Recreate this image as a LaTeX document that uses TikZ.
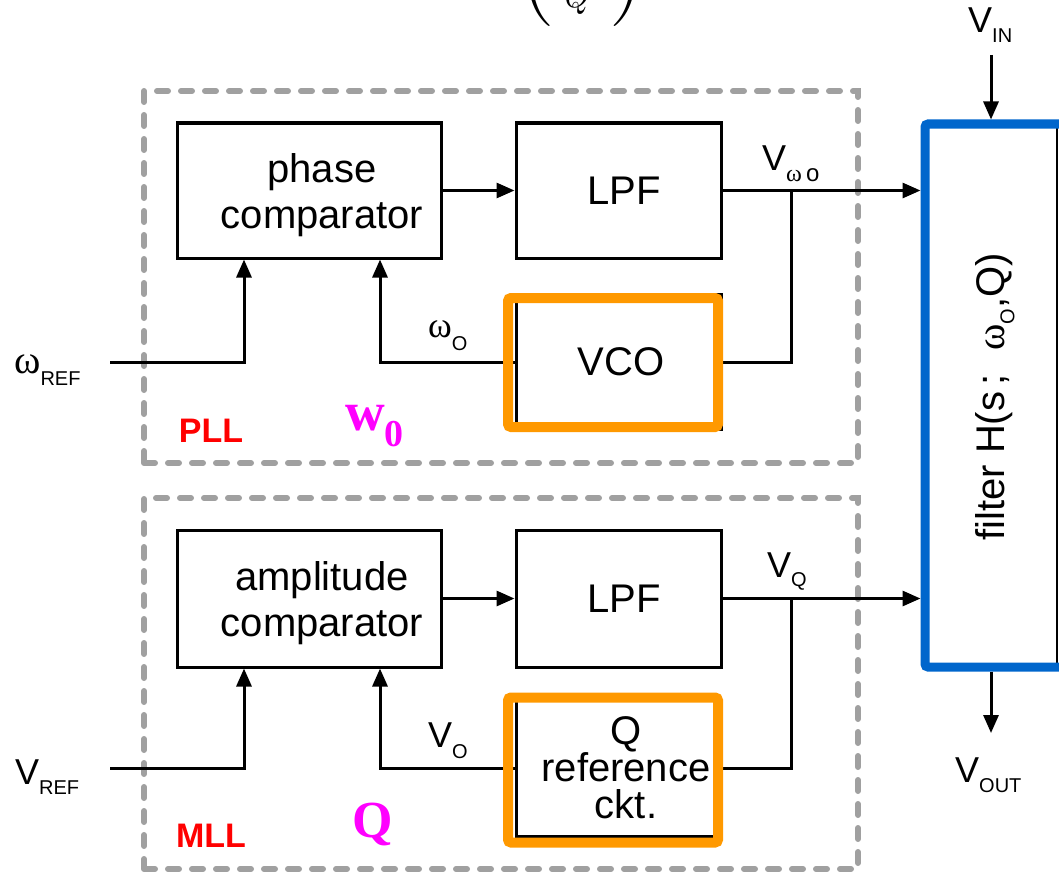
\documentclass[tikz,border=0pt]{standalone}
\usepackage{fontspec}
\setmainfont{Liberation Sans}
\newfontfamily\serifA{Liberation Serif}
\newfontfamily\lmr{Latin Modern Roman}
\usetikzlibrary{arrows.meta}
\definecolor{orng}{HTML}{FF9900}
\definecolor{fblue}{HTML}{0066CC}
\definecolor{dgray}{HTML}{A0A0A0}
\definecolor{magn}{HTML}{FF00FF}
\definecolor{redt}{HTML}{FF0000}
\newcommand{\blkfont}{\fontsize{40}{46}\selectfont}
\newcommand{\lblfont}{\fontsize{36}{36}\selectfont}
\newcommand{\sbs}[1]{{\fontsize{20}{20}\selectfont #1}}
\newcommand{\om}{{\serifA ω}}
\begin{document}
\begin{tikzpicture}[x=1pt,y=-1pt,
  box/.style={draw, line width=3pt, inner sep=0pt, minimum width=205pt, minimum height=135pt},
  wire/.style={line width=3pt},
  arr/.style={wire, -{Triangle[length=18pt,width=15pt]}},
  grp/.style={draw=dgray, line width=6pt, dash pattern=on 11pt off 13pt, line cap=round, inner sep=0pt},
  hl/.style={draw=orng, line width=10pt, rounded corners=3pt, inner sep=0pt},
  lbl/.style={font=\lblfont, inner sep=0pt, anchor=base west},
  blktxt/.style={font=\blkfont, align=center, inner sep=0pt}
]
\useasboundingbox (0,0) rectangle (1059,872);
\clip (0,0) rectangle (1059,872);

% partial formula cut off at the top
\node[font=\lmr\itshape\fontsize{36}{36}\selectfont, anchor=base west, inner sep=0pt] (qtop) at (561,8) {Q};
\node[font=\lmr\fontsize{100}{100}\selectfont, anchor=base, inner sep=0pt] (lp) at (537,2) {(};
\node[font=\lmr\fontsize{100}{100}\selectfont, anchor=base, inner sep=0pt] (rp) at (627,2) {)};

% group frames
\node[grp, minimum width=714pt, minimum height=372pt] (pllbox) at (501,277) {};
\node[grp, minimum width=714pt, minimum height=371pt] (mllbox) at (501,683.5) {};

% filter
\draw[line width=1.5pt] (925,124) rectangle (1057,667);
\node[draw=fblue, line width=9pt, inner sep=0pt, minimum width=150pt, minimum height=543pt, rounded corners=3pt] (filter) at (1000,395.5) {};
\node[font=\blkfont, rotate=90, inner sep=0pt] (ftxt) at (995,397) {filter H(s\,;\hspace{12pt} \om\raisebox{-10pt}{\sbs{O}},Q)};

% PLL blocks
\node[box, minimum width=264pt] (pc) at (309,190.5) {};
\node[box] (lpf1) at (618.5,190.5) {};
\node[box] (vco) at (618.5,362) {};

% MLL blocks
\node[box, minimum width=264pt, minimum height=137pt] (ac) at (309,598.5) {};
\node[box, minimum height=137pt] (lpf2) at (618.5,598.5) {};
\node[box, minimum width=200pt, minimum height=137pt] (qref) at (616,768) {};

% PLL wiring
\draw[arr] (pc.east) -- (lpf1.west);
\draw[arr] (lpf1.east) -- (lpf1.east -| filter.west);
\coordinate (j1) at (791,190.5);
\draw[wire] (j1) |- (vco.east);
\coordinate (fb1) at (380,362);
\draw[arr] (vco.west) -- (fb1) -- (fb1 |- pc.south);
\coordinate (wr) at (110,362);
\coordinate (wrc) at (244,362);
\draw[arr] (wr) -- (wrc) -- (wrc |- pc.south);

% MLL wiring
\draw[arr] (ac.east) -- (lpf2.west);
\draw[arr] (lpf2.east) -- (lpf2.east -| filter.west);
\coordinate (j2) at (791,598.5);
\draw[wire] (j2) |- (qref.east);
\coordinate (fb2) at (380,768);
\draw[arr] (qref.west) -- (fb2) -- (fb2 |- ac.south);
\coordinate (vr) at (110,768);
\coordinate (vrc) at (244,768);
\draw[arr] (vr) -- (vrc) -- (vrc |- ac.south);

% filter in / out
\coordinate (vinc) at (991,55);
\draw[arr] (vinc) -- (vinc |- filter.north);
\coordinate (voutc) at (991,733);
\draw[arr] (voutc |- filter.south) -- (voutc);

% orange highlights
\node[hl, minimum width=210pt, minimum height=129pt] (vcoh) at (613,362.5) {};
\node[hl, minimum width=210pt, minimum height=145pt] (qrefh) at (613,770) {};

% block texts
\node[blktxt] (pctxt) at (322,195) {phase\\comparator};
\node[blktxt] (lpf1txt) at (624,190.5) {LPF};
\node[blktxt] (vcotxt) at (621,362) {VCO};
\node[blktxt] (actxt) at (322,603) {amplitude\\comparator};
\node[blktxt] (lpf2txt) at (624,598.5) {LPF};
\node[font=\fontsize{40}{37}\selectfont, align=center, inner sep=0pt] (qreftxt) at (626,768) {Q\\reference\\ckt.};

% labels
\node[lbl] (vin) at (968,33) {V\raisebox{-10pt}{\sbs{IN}}};
\node[lbl] (vout) at (955,782) {V\raisebox{-10pt}{\sbs{OUT}}};
\node[lbl, font=\fontsize{40}{40}\selectfont] (wref) at (14,373) {\om\raisebox{-12pt}{\sbs{REF}}};
\node[lbl] (vref) at (15,784) {V\raisebox{-10pt}{\sbs{REF}}};
\node[lbl] (vwo) at (762,170) {V\raisebox{-11pt}{\sbs{\fontsize{24}{24}\selectfont\om\,o}}};
\node[lbl] (vq) at (767,577) {V\raisebox{-9pt}{\sbs{Q}}};
\node[lbl] (wo) at (428,337) {\om\raisebox{-13pt}{\sbs{O}}};
\node[lbl] (vo) at (428,747) {V\raisebox{-11pt}{\sbs{O}}};

\node[font=\fontsize{34}{34}\selectfont\bfseries, text=redt, inner sep=0pt] (pll) at (211,431) {PLL};
\node[font=\fontsize{34}{34}\selectfont\bfseries, text=redt, inner sep=0pt] (mll) at (211,836) {MLL};
\node[font=\serifA\bfseries\fontsize{55}{55}\selectfont, text=magn, anchor=base west, inner sep=0pt] (w0) at (345,430) {w\raisebox{-16pt}{\fontsize{38}{38}\selectfont 0}};
\node[font=\serifA\bfseries\fontsize{52}{52}\selectfont, text=magn, anchor=base west, inner sep=0pt] (qm) at (352,837) {Q};
\end{tikzpicture}
\end{document}
